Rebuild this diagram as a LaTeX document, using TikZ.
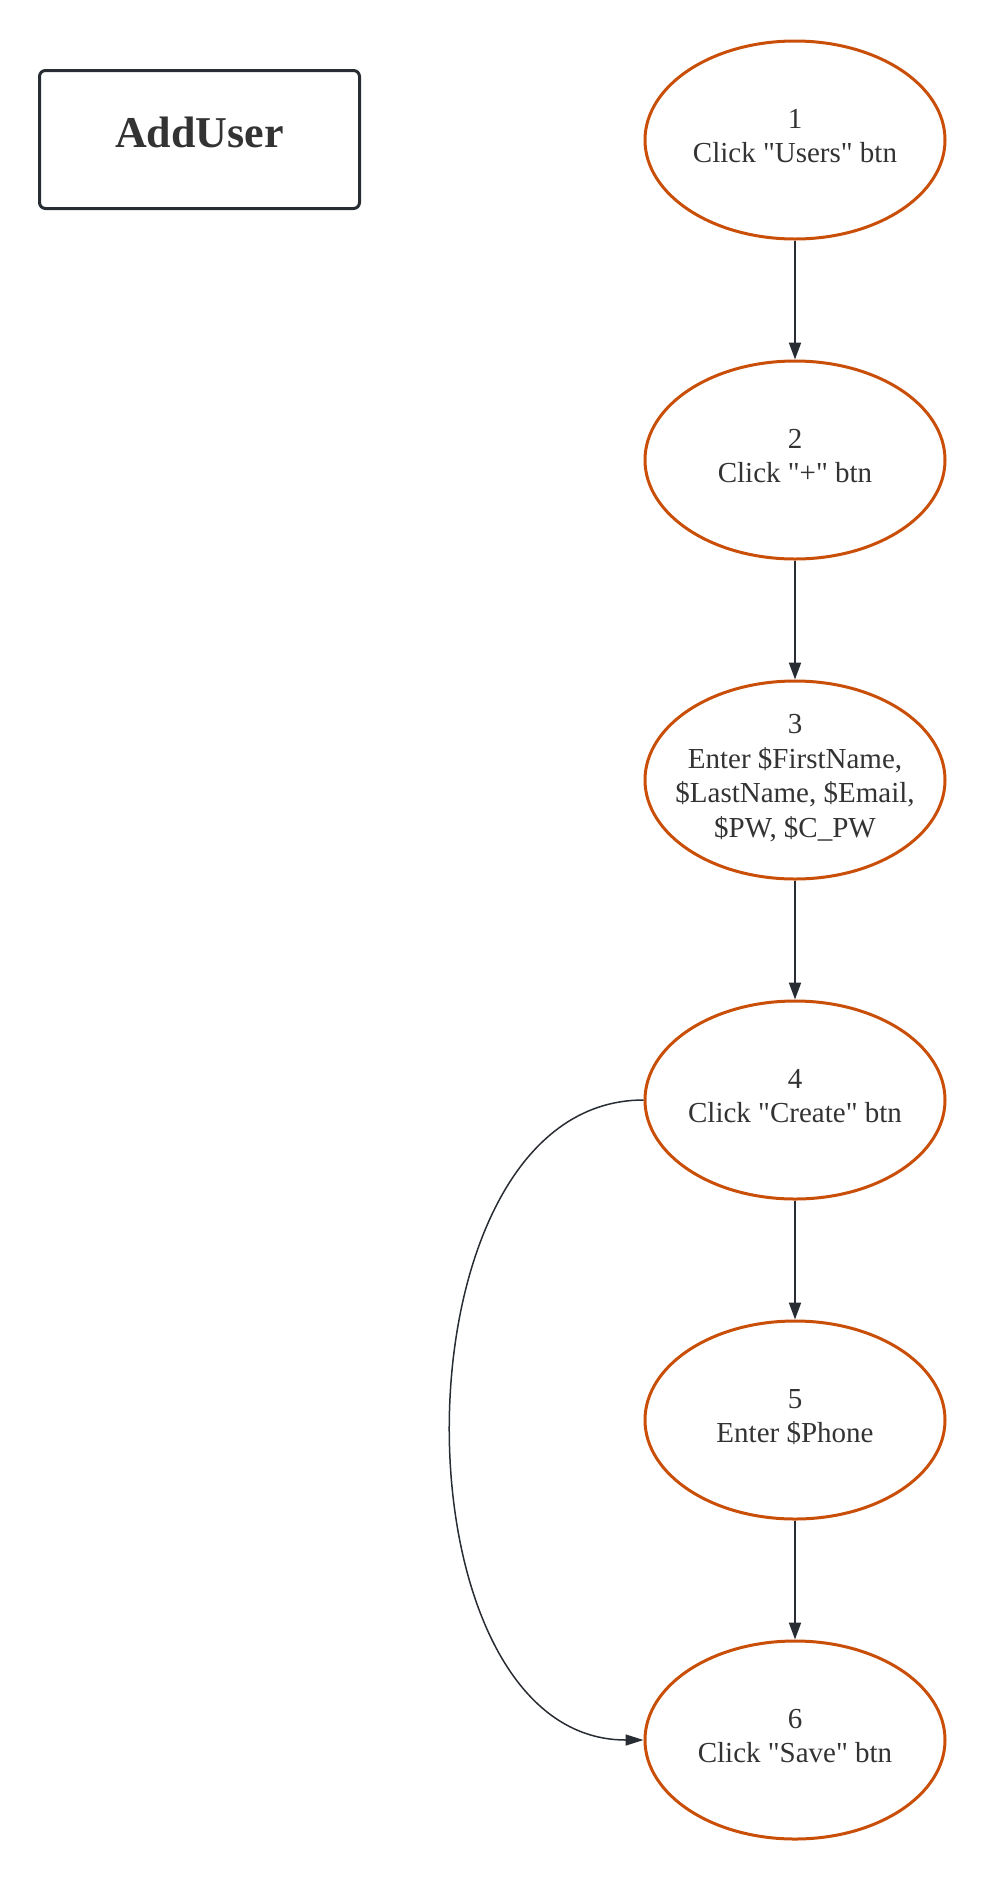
\documentclass[tikz,border=0pt]{standalone}
\usepackage{fontspec}
\setmainfont{Liberation Serif}[Ligatures=TeXOff]
\usetikzlibrary{shapes.geometric,arrows.meta}
\definecolor{ellorange}{RGB}{201,79,9}
\definecolor{linedark}{RGB}{40,44,51}
\definecolor{txtgray}{RGB}{51,51,51}
\newcommand{\ls}{\rule[-12pt]{0pt}{34.8pt}}
\tikzset{
  ell/.style={ellipse, draw=ellorange, line width=3pt, minimum width=300pt, minimum height=198pt, inner sep=0pt},
  txt/.style={text=txtgray, align=center, inner sep=0pt, font=\fontsize{29}{34.8}\selectfont},
  arr/.style={draw=linedark, line width=2pt, -{Triangle[length=17pt,width=12pt]}},
  arrc/.style={draw=linedark, line width=1.5pt, -{Triangle[length=18pt,width=11pt]}},
  titlebox/.style={draw=linedark, line width=3pt, rounded corners=6pt, minimum width=320pt, minimum height=138pt, inner sep=0pt, text=txtgray, font=\fontsize{44}{52}\selectfont\bfseries, text height=30pt, text depth=15pt}
}
\begin{document}
\begin{tikzpicture}[x=1pt,y=-1pt]
\useasboundingbox (0,0) rectangle (985,1880);
\node[titlebox] (title) at (199.5,139.5) {AddUser};
\node[ell, label={[txt]center:1\ls\\Click "Users" btn\ls}] (n1) at (795,140) {};
\node[ell, label={[txt]center:2\ls\\Click "+" btn\ls}] (n2) at (795,460) {};
\node[ell, label={[txt]center:3\ls\\Enter \$FirstName,\ls\\\$LastName, \$Email,\ls\\\$PW, \$C\_PW\ls}] (n3) at (795,780) {};
\node[ell, label={[txt]center:4\ls\\Click "Create" btn\ls}] (n4) at (795,1100) {};
\node[ell, label={[txt]center:5\ls\\Enter \$Phone\ls}] (n5) at (795,1420) {};
\node[ell, label={[txt]center:6\ls\\Click "Save" btn\ls}] (n6) at (795,1740) {};
\draw[arr] (n1) -- (n2);
\draw[arr] (n2) -- (n3);
\draw[arr] (n3) -- (n4);
\draw[arr] (n4) -- (n5);
\draw[arr] (n5) -- (n6);
\draw[arrc] (n4.west) .. controls +(-256,0) and +(-256,0) .. (n6.west);
\end{tikzpicture}
\end{document}
